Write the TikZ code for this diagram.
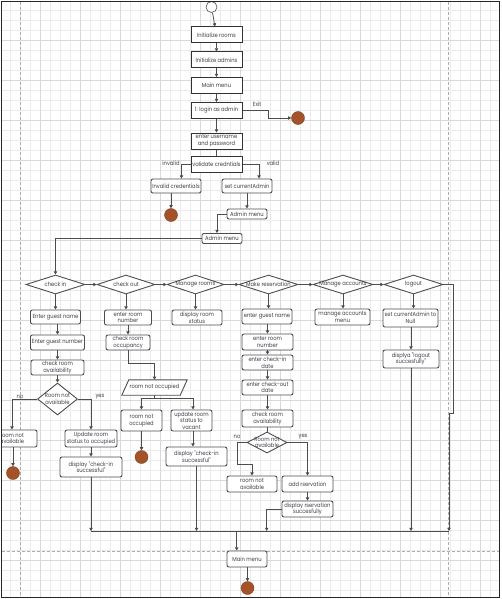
\documentclass[tikz,border=0pt]{standalone}
\usepackage{fontspec}
\newfontfamily\dfont[FakeStretch=0.88]{Poppins}
\usetikzlibrary{shapes.geometric,arrows.meta,calc}
\definecolor{endc}{HTML}{A3522A}
\definecolor{linec}{HTML}{4D4D4D}
\definecolor{txtc}{HTML}{3E3E4A}
\tikzset{
  lbl/.style={font=\dfont\fontsize{5.9}{6.6}\selectfont, text=txtc, inner sep=0pt, align=center},
  sqbox/.style={lbl, draw=black!80, line width=1pt, fill=white, minimum width=51pt, minimum height=16pt},
  rbox/.style={lbl, draw=linec, line width=0.9pt, rounded corners=2pt, fill=white, minimum height=15pt},
  dia/.style={diamond, draw=linec, line width=0.9pt, fill=white, inner sep=0pt},
  endnode/.style={circle, fill=endc, draw=endc!80!black, line width=0.4pt, minimum size=13pt, inner sep=0pt},
  startnode/.style={circle, fill=white, draw=linec, line width=0.6pt, minimum size=11pt, inner sep=0pt},
  arr/.style={draw=linec, line width=0.8pt, -{Triangle[length=3.2pt,width=3.4pt]}},
  ln/.style={draw=linec, line width=0.8pt},
  gridminor/.style={draw=black!8, line width=0.4pt},
  gridmajor/.style={draw=black!15, line width=0.5pt},
  pbreak/.style={draw=black!32, line width=0.6pt, dash pattern=on 3pt off 2pt},
}
\begin{document}
\begin{tikzpicture}[x=1pt,y=-1pt]
\useasboundingbox (0,0) rectangle (501,599);
\fill[white] (0,0) rectangle (501,599);
% grid
\foreach \g in {10,20,...,490} \draw[gridminor] (\g,2) -- (\g,597);
\foreach \g in {10,20,...,590} \draw[gridminor] (2,\g) -- (499,\g);
\foreach \g in {40,80,...,480} \draw[gridmajor] (\g,2) -- (\g,597);
\foreach \g in {40,80,...,560} \draw[gridmajor] (2,\g) -- (499,\g);
% page breaks
\draw[pbreak] (20,2) -- (20,597);
\draw[pbreak] (448,2) -- (448,597);
\draw[pbreak] (2,551) -- (499,551);

% top chain
\node[startnode] (st) at (211.5,7) {};
\node[sqbox] (ir) at (216.5,35) {Initialize rooms};
\node[sqbox] (ia) at (216.5,60) {Initialize admins};
\node[sqbox] (mm) at (216.5,85.5) {Main menu};
\node[sqbox] (login) at (216.5,110.5) {1: login as admin};
\node[sqbox] (eup) at (216.5,141) {enter username\\and password};
\node[sqbox] (vc) at (216.5,164.5) {validate credntials};
\node[endnode] (e1) at (298,118) {};
\node[lbl] (exitl) at (257,104) {Exit};
\node[lbl] (invl) at (171,163.5) {invalid};
\node[lbl] (vall) at (273,163.5) {valid};
\node[rbox, minimum width=50pt, minimum height=14pt] (ic) at (176,186) {Invalid credentials};
\node[rbox, minimum width=50pt, minimum height=14pt] (sca) at (247,186) {set currentAdmin};
\node[endnode] (e2) at (171,215) {};
\node[rbox, minimum width=40pt, minimum height=10pt] (am1) at (247,214) {Admin menu};
\node[rbox, minimum width=40pt, minimum height=10pt] (am2) at (222,238.5) {Admin menu};

\draw[arr] (st) -- (ir);
\draw[arr] (ir) -- (ia);
\draw[arr] (ia) -- (mm);
\draw[arr] (mm) -- (login);
\draw[arr] (login) -- (eup);
\draw[ln] (eup) -- (vc);
\draw[arr] (login.east) -- (268,110.5) |- (e1.west);
\draw[arr] (vc.west) -| ([xshift=5.5pt]ic.north);
\draw[arr] (vc.east) -| ([xshift=12pt]sca.north);
\draw[arr] ([xshift=-5pt]ic.south) -- (e2.north);
\draw[arr] (sca) -- (am1);
\draw[arr] (am1.west) -| ([xshift=-5pt]am2.north);

% decision row
\node[dia, minimum width=59pt, minimum height=19pt] (ci) at (55.5,284.5) {};
\node[lbl] at (ci) {check in};
\node[dia, minimum width=58pt, minimum height=19pt] (co) at (126,284.5) {};
\node[lbl] at (co) {check out};
\node[dia, minimum width=57pt, minimum height=19pt] (mr) at (195.5,284.5) {};
\node[lbl] at (mr) {Manage rooms};
\node[dia, minimum width=59pt, minimum height=19pt] (mres) at (268.5,284.5) {};
\node[lbl] at (mres) {Make reservation};
\node[dia, minimum width=60pt, minimum height=19pt] (ma) at (343,284.5) {};
\node[lbl] at (ma) {Manage accounts};
\node[dia, minimum width=59pt, minimum height=19pt] (lo) at (413.5,284.5) {};
\node[lbl] at (lo) {logout};

\draw[arr] (am2.west) -| (ci.north);
\draw[arr] (ci.east) -- (co.west);
\draw[arr] (co.east) -- (mr.west);
\draw[arr] (mr.east) -- (mres.west);
\draw[arr] (mres.east) -- (ma.west);
\draw[arr] (ma.east) -- (lo.west);

% column 1: check in
\node[rbox, minimum width=50pt, minimum height=14pt] (egn1) at (55.5,317) {Enter guest name};
\node[rbox, minimum width=54pt, minimum height=15pt] (egnum) at (57.5,342.5) {Enter guest number};
\node[rbox, minimum width=53pt, minimum height=15pt] (cra1) at (57.5,367.5) {check room\\availability};
\node[dia, minimum width=40pt, minimum height=32pt] (rna1) at (57.5,399) {};
\node[lbl] at (rna1) {Room not\\available};
\node[lbl] (nol1) at (20,397) {no};
\node[lbl] (yesl1) at (100,397) {yes};
\begin{scope}
\clip (2,2) rectangle (499,597);
\node[rbox, minimum width=50pt, minimum height=17pt] (rn1) at (12,438.5) {room not\\available};
\end{scope}
\node[rbox, minimum width=52pt, minimum height=17pt] (uro) at (91,438.5) {Update room\\status to occupied};
\node[rbox, minimum width=62pt, minimum height=20pt] (dci1) at (91,467) {display "check-in\\successful"};
\node[endnode] (e3) at (13,473) {};

\draw[arr] (ci.south) -- (egn1.north);
\draw[arr] (egn1.south -| egnum) -- (egnum.north);
\draw[arr] (egnum) -- (cra1);
\draw[arr] (cra1) -- (rna1);
\draw[arr] (rna1.west) -| (rn1.north);
\draw[arr] (rna1.east) -| (uro.north);
\draw[arr] (rn1.south -| e3) -- (e3.north);
\draw[arr] (uro) -- (dci1);

% column 2: check out
\node[rbox, minimum width=47pt, minimum height=15pt] (ern2) at (128,317.5) {enter room\\number};
\node[rbox, minimum width=44pt, minimum height=15pt] (cro) at (128,342.5) {check room\\occupancy};
\node[minimum width=58pt, minimum height=15pt, inner sep=0pt] (pno) at (154.5,387.5) {};
\draw[draw=linec, line width=0.9pt, fill=white] ($(pno.south west)+(-3.5pt,0)$) -- ($(pno.north west)+(3.5pt,0)$) -- ($(pno.north east)+(3.5pt,0)$) -- ($(pno.south east)+(-3.5pt,0)$) -- cycle;
\node[lbl] at (pno) {room not occupied};
\coordinate (split) at (154,398);
\node[rbox, minimum width=41pt, minimum height=21pt] (rno) at (141.5,420.5) {room not\\occupied};
\node[rbox, minimum width=41pt, minimum height=21pt] (urv) at (191.5,420.5) {update room\\status to\\vacant};
\node[endnode] (e4) at (141.5,457) {};
\node[rbox, minimum width=61pt, minimum height=19pt] (dci2) at (196.5,456.5) {display "check-in\\successful"};

\draw[arr] (co.south) -- (co.south |- ern2.north);
\draw[arr] (ern2) -- (cro);
\draw[arr] (cro.south) -- (128,363) -| (pno.north);
\draw[ln] (pno.south -| split) -- (split);
\draw[arr] (split) -| (rno.north);
\draw[arr] (split) -| ([xshift=1.5pt]urv.north);
\draw[arr] (rno) -- (e4);
\draw[arr] ([xshift=1.5pt]urv.south) -- ([xshift=1.5pt]urv.south |- dci2.north);

% column 3: manage rooms
\node[rbox, minimum width=50pt, minimum height=15pt] (drs) at (197,317.5) {display room\\status};
\draw[arr] (mr.south) -- (mr.south |- drs.north);

% column 4: make reservation
\node[rbox, minimum width=50pt, minimum height=15pt] (egn4) at (267,316.5) {enter guest name};
\node[rbox, minimum width=51pt, minimum height=16pt] (ern4) at (267.5,342) {enter room\\number};
\node[rbox, minimum width=51pt, minimum height=15pt] (ecid) at (267.5,362.5) {enter check-in\\date};
\node[rbox, minimum width=51pt, minimum height=15pt] (ecod) at (267.5,387.5) {enter check-out\\date};
\node[rbox, minimum width=51pt, minimum height=17pt] (cra4) at (267.5,418.5) {check room\\availability};
\node[dia, minimum width=40pt, minimum height=21pt] (rna4) at (267,442.5) {};
\node[lbl] at (rna4) {Room not\\available};
\node[lbl] (nol4) at (237,436.5) {no};
\node[lbl] (yesl4) at (303,436.5) {yes};
\node[rbox, minimum width=50pt, minimum height=16pt] (rnav) at (252,484) {room not\\available};
\node[rbox, minimum width=51pt, minimum height=16pt] (addr) at (307.5,484) {add rservation};
\node[rbox, minimum width=51pt, minimum height=16pt] (dres) at (307.5,509) {display rservation\\succesfully};

\draw[arr] (mres.south) -- (mres.south |- egn4.north);
\draw[arr] (egn4.south -| ern4) -- (ern4.north);
\draw[arr] (ern4) -- (ecid);
\draw[arr] (ecid) -- (ecod);
\draw[arr] (ecod) -- (cra4);
\draw[ln] (cra4.south -| rna4) -- (rna4.north);
\draw[arr] (rna4.west) -- (237,442.5) -- (237,464.5) -| (rnav.north);
\draw[arr] (rna4.east) -| (addr.north);
\draw[arr] (addr) -- (dres);

% column 5: manage accounts
\node[rbox, minimum width=55pt, minimum height=16pt] (mam) at (342.5,317) {manage accounts\\menu};
\draw[arr] (ma.south) -- (ma.south |- mam.north);

% column 6: logout
\node[rbox, minimum width=55pt, minimum height=18pt] (scn) at (410.5,318) {set currentAdmin to\\Null};
\node[rbox, minimum width=56pt, minimum height=18pt] (dlo) at (411,359) {displya "logout\\succesfully"};
\draw[arr] (lo.south) -- (lo.south |- scn.north);
\draw[arr] (scn.south -| dlo) -- (dlo.north);

% merge bar
\coordinate (b1) at (91,531);
\coordinate (b2) at (196.5,531);
\coordinate (b3) at (266.7,531);
\coordinate (b5) at (411,531);
\coordinate (b6) at (449,531);
\coordinate (bm) at (236.7,531);
\draw[ln] (b1) -- (b6);
\draw[arr] (dci1.south) -- (b1);
\draw[arr] (dci2.south) -- (b2);
\draw[arr] (dres.west) -| (b3);
\draw[arr] (dlo.south) -- (b5);
\draw[arr] (lo.east) -- (453,284.5) -- (453,413) -- (449,413) -- (b6);

\node[rbox, minimum width=40pt, minimum height=16pt] (mm2) at (247,559) {Main menu};
\node[endnode] (e5) at (247.5,588) {};
\draw[arr] (bm) -- (bm |- mm2.north);
\draw[arr] (mm2.south -| e5) -- (e5.north);

% frame
\draw[black!85, line width=1.3pt] (1.5,1.5) rectangle (499.5,597.5);
\end{tikzpicture}
\end{document}
